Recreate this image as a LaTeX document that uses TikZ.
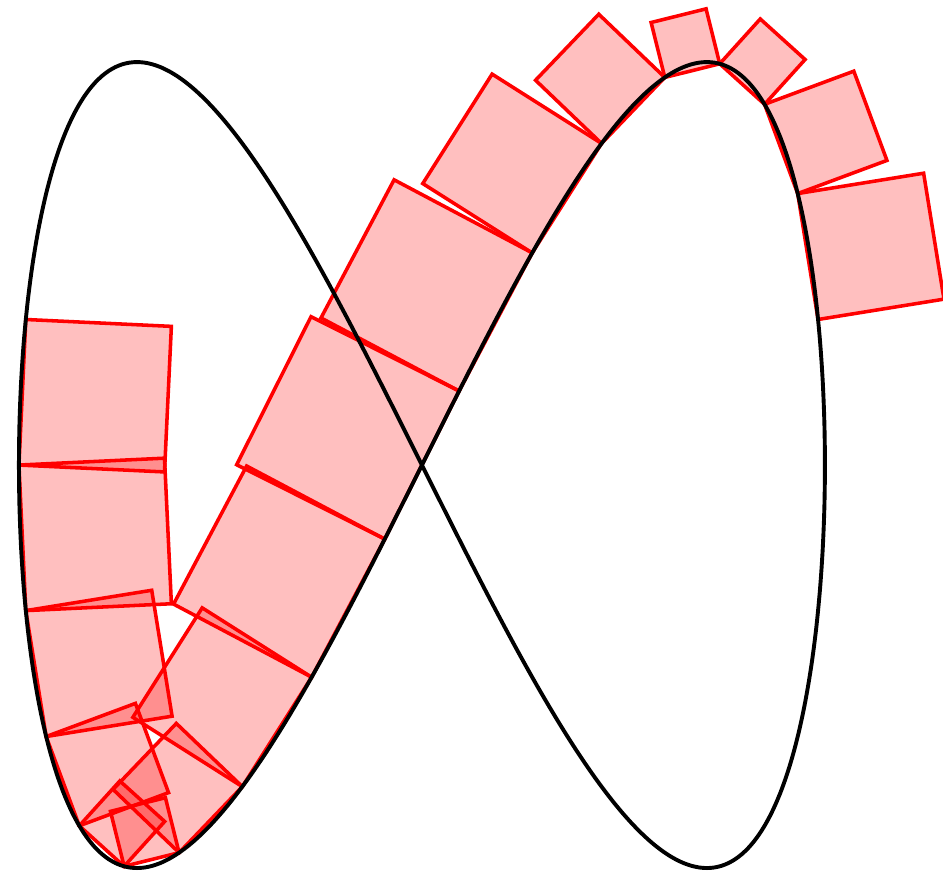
\documentclass[tikz,border=0pt]{standalone}
\begin{document}
\begin{tikzpicture}[x=4cm,y=4cm]

	% Estilos
	\tikzset{
		cuadro/.style={
			draw=red,
			fill=red,
			fill opacity=0.25,
			line width=1pt
		},
		curva/.style={
			draw=black,
			line width=1.1pt
		}
	}

	\useasboundingbox (-1.047,-1.017) rectangle (1.293,1.154);

	% Cuadrados sobre las cuerdas
	\foreach \k in {-10,...,6}{
		\pgfmathsetmacro{\ta}{(2*\k+1)*180/34}
		\pgfmathsetmacro{\tb}{(2*\k+3)*180/34}
		\pgfmathsetmacro{\xa}{sin(\ta)}
		\pgfmathsetmacro{\ya}{sin(2*\ta)}
		\pgfmathsetmacro{\xb}{sin(\tb)}
		\pgfmathsetmacro{\yb}{sin(2*\tb)}
		\coordinate (A) at (\xa,\ya);
		\coordinate (B) at (\xb,\yb);
		\draw[cuadro] (A) -- (B) -- ++({\ya-\yb},{\xb-\xa})
			-- ({\xa+\ya-\yb},{\ya+\xb-\xa}) -- cycle;
	}

	% Curva
	\draw[curva] plot[domain=0:358.5, samples=240, smooth cycle]
		({sin(\x)},{sin(2*\x)});

\end{tikzpicture}
\end{document}
